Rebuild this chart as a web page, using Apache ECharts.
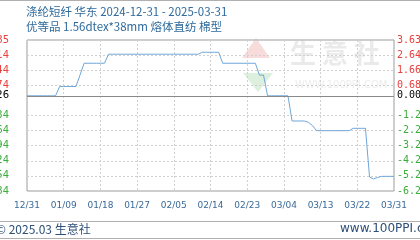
<!DOCTYPE html>
<html>
<head>
<meta charset="utf-8">
<script src="https://cdn.jsdelivr.net/npm/echarts@6/dist/echarts.min.js"></script>
<style>
html,body{margin:0;padding:0;background:#fff;}
#c{width:420px;height:240px;}
</style>
</head>
<body>
<div id="c"></div>
<script>
const titleLine1 = '涤纶短纤 华东 2024-12-31 - 2025-03-31';
const titleLine2 = '优等品 1.56dtex*38mm 熔体直纺 棉型';
const footerLeft = '© 2025.03 生意社';
const footerRight = 'www.100PPI.com';

const dates = ['12/31',
'01/01','01/02','01/03','01/04','01/05','01/06','01/07','01/08','01/09','01/10',
'01/11','01/12','01/13','01/14','01/15','01/16','01/17','01/18','01/19','01/20',
'01/21','01/22','01/23','01/24','01/25','01/26','01/27','01/28','01/29','01/30','01/31',
'02/01','02/02','02/03','02/04','02/05','02/06','02/07','02/08','02/09','02/10',
'02/11','02/12','02/13','02/14','02/15','02/16','02/17','02/18','02/19','02/20',
'02/21','02/22','02/23','02/24','02/25','02/26','02/27','02/28',
'03/01','03/02','03/03','03/04','03/05','03/06','03/07','03/08','03/09','03/10',
'03/11','03/12','03/13','03/14','03/15','03/16','03/17','03/18','03/19','03/20',
'03/21','03/22','03/23','03/24','03/25','03/26','03/27','03/28','03/29','03/30','03/31'];

const prices = [
7126,7126,7126,7126,7126,7126,7126,7126,
7169,7169,7169,7169,7169,
7222,
7277,7277,7277,7277,7277,7277,
7319,7319,7319,7319,7319,7319,7319,7319,7319,7319,7319,7319,7319,7319,7319,7319,7319,7319,7319,7319,7319,7319,7319,
7328,7328,7328,7328,7328,
7277,7277,7277,7277,7277,7277,7277,7277,7277,
7222,7222,
7126,7126,7126,7126,7126,7126,
7009,7009,7009,7009,
7003,
6988,
6964,6964,6964,6964,6964,6964,6964,6964,6964,
6975,6975,6975,6975,
6749,
6740,
6747,
6752,6752,6752,6752];

const basePrice = 7126;
const baseLeftLabel = '7126';
const baseRightLabel = '0.00%';
const leftTicks = ['6684','6754','6824','6894','6964','7034','','7174','7244','7314','7385'];
const rightTicks = ['-6.20%','-5.22%','-4.24%','-3.25%','-2.27%','-1.29%','','0.68%','1.66%','2.64%','3.63%'];

const leftMin = 6684, leftMax = 7385, leftInt = 70.1;
const rightMin = -6.203, rightMax = 3.635, rightInt = 0.9838;

const RED = '#e8413e', GREEN = '#3aae3a';
function tickColor(i){ return i < 6 ? GREEN : (i > 6 ? RED : '#000'); }

const splitColors = [];
for (let i = 0; i < leftTicks.length; i++) splitColors.push(i === 6 ? 'rgba(0,0,0,0)' : '#d0d0d0');

const chart = echarts.init(document.getElementById('c'), null, {renderer:'canvas'});
chart.setOption({
  animation: false,
  textStyle: {fontFamily: '"Noto Sans CJK SC", "Noto Sans", sans-serif'},
  grid: {left: 27, right: 26, top: 40, bottom: 49, show: true, borderColor: '#9a9a9a', borderWidth: 1,
         containLabel: false, outerBoundsMode: 'none'},
  graphic: [
    {type:'line', shape:{x1:0,y1:0.5,x2:420,y2:0.5}, style:{stroke:'#b0b0b0', lineWidth:1}},
    {type:'text', left: 26, top: 6, style:{text: titleLine1, fill:'#2f6a9c', font:'11.5px "Noto Sans CJK SC"'}},
    {type:'text', left: 26, top: 21, style:{text: titleLine2, fill:'#2f6a9c', font:'11.5px "Noto Sans CJK SC"'}},
    {type:'polygon', shape:{points:[[256,38],[242,58],[270,58]]}, style:{fill:'#f8dcdc'}, z:-1},
    {type:'polygon', shape:{points:[[243,73],[273,73],[258,92]]}, style:{fill:'#ddf0dd'}, z:-1},
    {type:'text', left: 290, top: 40, style:{text:'生 意 社', fill:'#eaeaea', font:'bold 26px "Noto Sans CJK SC"'}, z:-1},
    {type:'text', left: 295, top: 80, style:{text:'WWW.100PPI.COM', fill:'#ececec', font:'10px "DejaVu Sans"'}, z:-1},
    {type:'line', shape:{x1:0,y1:221.5,x2:420,y2:221.5}, style:{stroke:'#b0b0b0', lineWidth:1}},
    {type:'line', shape:{x1:0,y1:238.5,x2:420,y2:238.5}, style:{stroke:'#b0b0b0', lineWidth:1}},
    {type:'text', left: -4, top: 223, style:{text: footerLeft, fill:'#2e4f78', font:'12px "Noto Sans CJK SC"'}},
    {type:'text', left: 340, top: 223, style:{text: footerRight, fill:'#2e4f78', font:'12px "DejaVu Sans"'}}
  ],
  xAxis: {
    type: 'category', data: dates, boundaryGap: false,
    axisLine: {show: false}, axisTick: {show: false},
    axisLabel: {interval: 8, color: '#3a6a9a', fontSize: 9, margin: 10, fontFamily: '"DejaVu Sans"', hideOverlap: false},
    splitLine: {show: true, interval: 8, lineStyle: {color: '#d0d0d0', type: [2,2]}}
  },
  yAxis: [
    {
      type: 'value', min: leftMin, max: leftMax, interval: leftInt, position: 'left',
      axisLine: {show: false}, axisTick: {show: false},
      axisLabel: {margin: 18, fontSize: 10, fontFamily: '"DejaVu Sans"', hideOverlap: false,
        formatter: function(v){ const i = Math.round((v - leftMin)/leftInt); return leftTicks[i] || ''; },
        color: function(v){ const i = Math.round((v - leftMin)/leftInt); return tickColor(i); }},
      splitLine: {show: true, lineStyle: {color: splitColors, type: [2,2]}}
    },
    {
      type: 'value', min: rightMin, max: rightMax, interval: rightInt, position: 'right',
      axisLine: {show: false}, axisTick: {show: false}, splitLine: {show: false},
      axisLabel: {margin: 3, fontSize: 10, fontFamily: '"DejaVu Sans Mono"', hideOverlap: false,
        formatter: function(v){ const i = Math.round((v - rightMin)/rightInt); return rightTicks[i] || ''; },
        color: function(v){ const i = Math.round((v - rightMin)/rightInt); return tickColor(i); }}
    }
  ],
  series: [{
    type: 'line', data: prices, yAxisIndex: 0, showSymbol: false, symbol: 'none',
    lineStyle: {color: '#6ea6d8', width: 1}, z: 3,
    markLine: {
      silent: true, symbol: 'none', animation: false,
      lineStyle: {color: '#8a8a8a', type: 'solid', width: 1},
      data: [
        {yAxis: basePrice, label: {position: 'start', distance: 18, formatter: baseLeftLabel, color: '#000', fontSize: 10, fontFamily: '"DejaVu Sans"'}},
        {yAxis: basePrice, label: {position: 'end', distance: 3, formatter: baseRightLabel, color: '#000', fontSize: 10, fontFamily: '"DejaVu Sans Mono"'}}
      ]
    }
  }]
});
</script>
</body>
</html>
